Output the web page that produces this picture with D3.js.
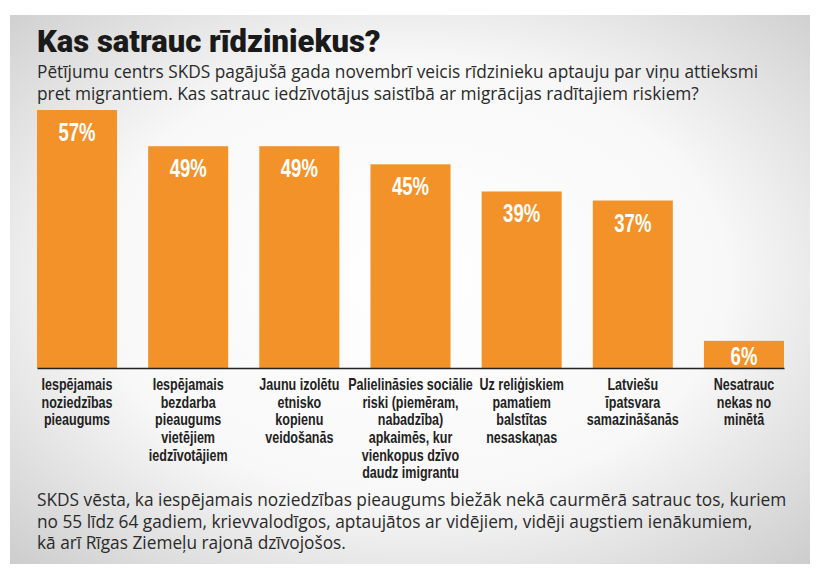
<!DOCTYPE html>
<html><head><meta charset="utf-8">
<script src="https://cdn.jsdelivr.net/npm/d3@7"></script>
<style>html,body{margin:0;padding:0;background:#fff;} svg{display:block}</style>
</head><body>
<script>
const title = "Kas satrauc rīdziniekus?";
const subtitleLines = [
  "Pētījumu centrs SKDS pagājušā gada novembrī veicis rīdzinieku aptauju par viņu attieksmi",
  "pret migrantiem. Kas satrauc iedzīvotājus saistībā ar migrācijas radītajiem riskiem?"
];
const categories = [
  "Iespējamais\nnoziedzības\npieaugums",
  "Iespējamais\nbezdarba\npieaugums\nvietējiem\niedzīvotājiem",
  "Jaunu izolētu\netnisko\nkopienu\nveidošanās",
  "Palielināsies sociālie\nriski (piemēram,\nnabadzība)\napkaimēs, kur\nvienkopus dzīvo\ndaudz imigrantu",
  "Uz reliģiskiem\npamatiem\nbalstītas\nnesaskaņas",
  "Latviešu\nīpatsvara\nsamazināšanās",
  "Nesatrauc\nnekas no\nminētā"
];
const values = [57, 49, 49, 45, 39, 37, 6];
const valueLabels = ["57%", "49%", "49%", "45%", "39%", "37%", "6%"];
const footerLines = [
  "SKDS vēsta, ka iespējamais noziedzības pieaugums biežāk nekā caurmērā satrauc tos, kuriem",
  "no 55 līdz 64 gadiem, krievvalodīgos, aptaujātos ar vidējiem, vidēji augstiem ienākumiem,",
  "kā arī Rīgas Ziemeļu rajonā dzīvojošos."
];

const W = 820, H = 585;
const svg = d3.select("body").append("svg").attr("width", W).attr("height", H);

const defs = svg.append("defs");
const grad = defs.append("radialGradient").attr("id", "bg")
  .attr("cx", "50%").attr("cy", "48%").attr("r", "72%");
grad.append("stop").attr("offset", "0%").attr("stop-color", "#ffffff");
grad.append("stop").attr("offset", "55%").attr("stop-color", "#f8f8f8");
grad.append("stop").attr("offset", "100%").attr("stop-color", "#cdcdcd");

svg.append("rect").attr("x", 10).attr("y", 15).attr("width", 800).attr("height", 549)
  .attr("fill", "url(#bg)");

// Title
svg.append("text").attr("x", 37).attr("y", 52)
  .attr("font-family", "Roboto, 'Liberation Sans', sans-serif")
  .attr("font-weight", 900).attr("font-size", 31)
  .attr("fill", "#1a1a1a").text(title);

// Subtitle
svg.append("g").selectAll("text").data(subtitleLines).join("text")
  .attr("x", 37).attr("y", (d, i) => 77.5 + i * 22.5)
  .attr("font-family", "'Open Sans', 'Noto Sans', sans-serif")
  .attr("font-size", 17.3).attr("fill", "#2a2a2a").text(d => d);

const x = d3.scaleBand().domain(d3.range(values.length)).range([37, 784])
  .paddingInner(0.28).paddingOuter(0);
const y = d3.scaleLinear().domain([0, d3.max(values)]).range([368, 110]);

svg.append("g").selectAll("rect").data(values).join("rect")
  .attr("x", (d, i) => x(i)).attr("width", x.bandwidth())
  .attr("y", d => y(d)).attr("height", d => y(0) - y(d))
  .attr("fill", "#f39228");

// axis baseline
const axis = d3.axisBottom(x).tickSize(0).tickSizeOuter(0).tickFormat("");
const ag = svg.append("g").attr("transform", `translate(0,${y(0)})`).call(axis);
ag.select(".domain").attr("stroke", "#222").attr("stroke-width", 1.6);

// value labels
svg.append("g").selectAll("g").data(values).join("g")
  .attr("transform", (d, i) => {
    const base = Math.min(y(d) + 31, y(0) - 3);
    return `translate(${x(i) + x.bandwidth() / 2},${base}) scale(0.7,1)`;
  })
  .append("text").attr("text-anchor", "middle")
  .attr("font-family", "'Liberation Sans', Arial, sans-serif")
  .attr("font-weight", 700).attr("font-size", 26.5).attr("fill", "#fff")
  .text((d, i) => valueLabels[i]);

// category labels
const cg = svg.append("g").selectAll("g").data(categories).join("g")
  .attr("transform", (d, i) => `translate(${x(i) + x.bandwidth() / 2},390) scale(0.76,1)`);
cg.append("text").attr("text-anchor", "middle")
  .attr("font-family", "'Liberation Sans', Arial, sans-serif")
  .attr("font-weight", 700).attr("font-size", 16.5).attr("fill", "#222")
  .selectAll("tspan").data(d => d.split("\n")).join("tspan")
  .attr("x", 0).attr("dy", (d, i) => i === 0 ? 0 : 17.7).text(d => d);

// footer
svg.append("g").selectAll("text").data(footerLines).join("text")
  .attr("x", 37).attr("y", (d, i) => 506 + i * 21.5)
  .attr("font-family", "'Open Sans', 'Noto Sans', sans-serif")
  .attr("font-size", 17.3).attr("fill", "#2a2a2a").text(d => d);
</script>
</body></html>
